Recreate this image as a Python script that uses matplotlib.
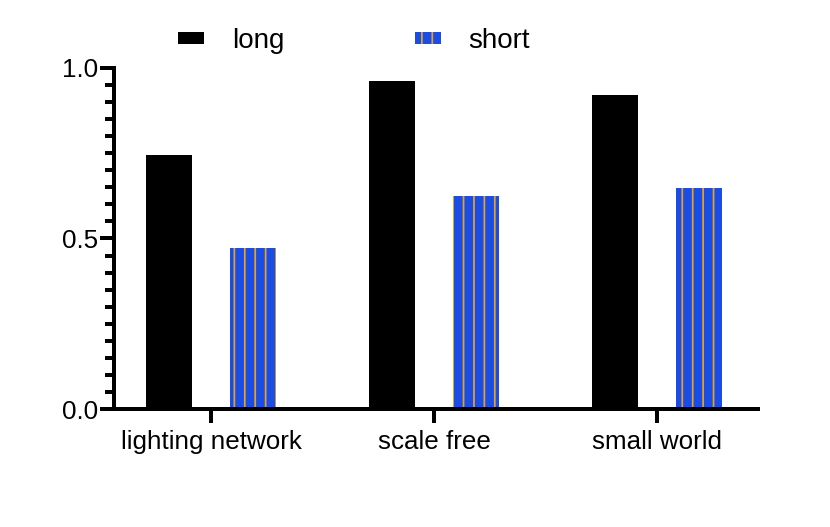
import numpy as np
import matplotlib
matplotlib.use("Agg")
import matplotlib.pyplot as plt
from matplotlib.ticker import MultipleLocator

plt.rcParams["font.family"] = ["Liberation Sans", "DejaVu Sans"]
plt.rcParams["font.size"] = 15
plt.rcParams["hatch.linewidth"] = 1.0

categories = ["lighting network", "scale free", "small world"]
long_vals = [0.745, 0.962, 0.921]
short_vals = [0.472, 0.625, 0.648]

blue = "#1a4de6"
orange = "#eaa21c"

fig = plt.figure(figsize=(6.64, 4.216), dpi=125)
ax = fig.add_axes([0.1373, 0.2239, 0.776, 0.6471])

x = np.arange(len(categories))
w = 0.206
ax.bar(x - 0.19, long_vals, w, color="black", linewidth=0, label="long")
ax.bar(x + 0.19, short_vals, w, color=blue, edgecolor=orange, hatch="||",
       linewidth=0, label="short")

ax.set_xlim(-0.435, 2.453)
ax.set_ylim(0, 1.0)
ax.set_xticks(x)
ax.set_xticklabels(categories)
ax.yaxis.set_major_locator(MultipleLocator(0.5))
ax.yaxis.set_minor_locator(MultipleLocator(0.05))
ax.yaxis.set_major_formatter(matplotlib.ticker.FormatStrFormatter("%.1f"))

for s in ["top", "right"]:
    ax.spines[s].set_visible(False)
for s in ["left", "bottom"]:
    ax.spines[s].set_linewidth(2.3)

ax.tick_params(axis="y", which="major", length=8, width=2.3, pad=1)
ax.tick_params(axis="y", which="minor", length=5, width=2.3)
ax.tick_params(axis="x", which="major", length=8, width=2.3, pad=4)

fig.legend(loc="center", bbox_to_anchor=(354 / 830, 1 - 41 / 527), ncol=2,
           frameon=False, fontsize=16, handlelength=0.94, handleheight=0.3,
           handletextpad=1.0, columnspacing=4.7)

fig.savefig("out.png", dpi=125)
